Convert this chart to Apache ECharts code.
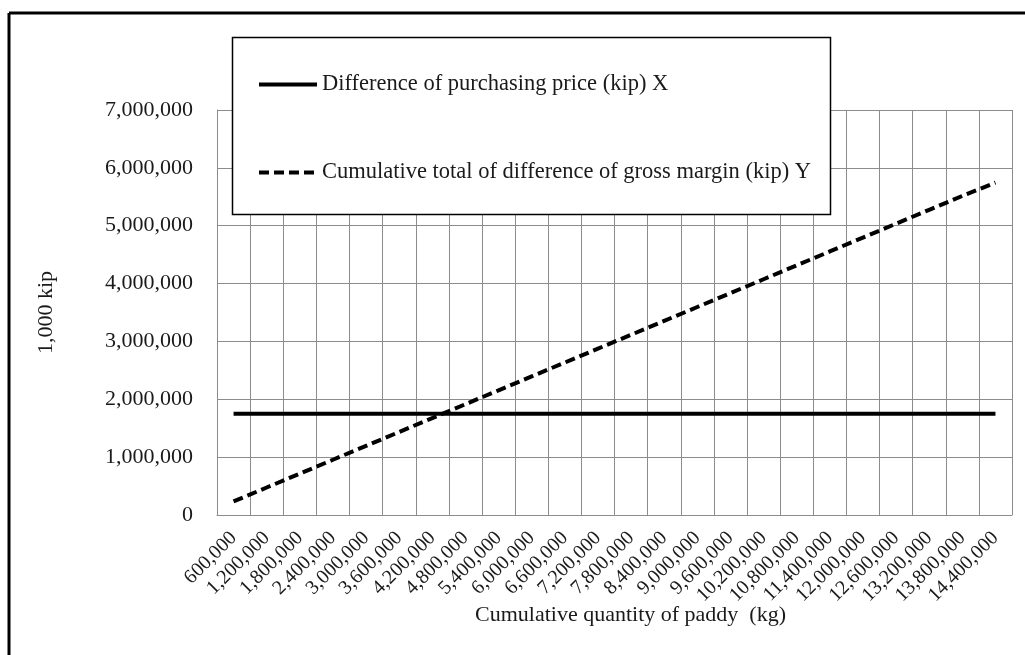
<!DOCTYPE html>
<html>
<head>
<meta charset="utf-8">
<title>Cumulative quantity of paddy</title>
<script src="https://cdn.jsdelivr.net/npm/echarts@6/dist/echarts.min.js"></script>
<style>
  html, body { margin: 0; padding: 0; background: #fff; }
  #chart { width: 1025px; height: 655px; }
</style>
</head>
<body>
<div id="chart"></div>
<script>
// x categories: cumulative quantity of paddy (kg)
const quantities = [
  '600,000', '1,200,000', '1,800,000', '2,400,000', '3,000,000', '3,600,000',
  '4,200,000', '4,800,000', '5,400,000', '6,000,000', '6,600,000', '7,200,000',
  '7,800,000', '8,400,000', '9,000,000', '9,600,000', '10,200,000', '10,800,000',
  '11,400,000', '12,000,000', '12,600,000', '13,200,000', '13,800,000', '14,400,000'
];

// difference of purchasing price (kip) X - flat line
const priceDiff = [
  1750000, 1750000, 1750000, 1750000, 1750000, 1750000,
  1750000, 1750000, 1750000, 1750000, 1750000, 1750000,
  1750000, 1750000, 1750000, 1750000, 1750000, 1750000,
  1750000, 1750000, 1750000, 1750000, 1750000, 1750000
];

// cumulative total of difference of gross margin (kip) Y
const marginCum = [
  235000, 475000, 715000, 955000, 1195000, 1435000,
  1675000, 1915000, 2155000, 2395000, 2635000, 2875000,
  3115000, 3355000, 3595000, 3835000, 4075000, 4315000,
  4555000, 4795000, 5035000, 5275000, 5515000, 5745000
];

const seriesNames = [
  'Difference of purchasing price (kip) X',
  'Cumulative total of difference of gross margin (kip) Y'
];

const FONT = 'Liberation Serif';
const INK = '#1a1a1a';
const GRID = '#8c8c8c';
const chart = echarts.init(document.getElementById('chart'));

function withCommas(v) {
  return String(v).replace(/\B(?=(\d{3})+(?!\d))/g, ',');
}

chart.setOption({
  animation: false,
  textStyle: { fontFamily: FONT, color: INK },
  grid: { left: 217, right: 13, top: 110, bottom: 140 },
  graphic: [
    // outer frame (top + left only, the picture is cropped)
    { type: 'line', shape: { x1: 9, y1: 13, x2: 1025, y2: 13 }, style: { stroke: '#000', lineWidth: 3 } },
    { type: 'line', shape: { x1: 9, y1: 13, x2: 9, y2: 655 }, style: { stroke: '#000', lineWidth: 3 } },
    // legend box
    { type: 'rect', z: 3, shape: { x: 232.5, y: 37.5, width: 598, height: 177 },
      style: { fill: '#fff', stroke: '#000', lineWidth: 1.5 } }
  ],
  legend: {
    orient: 'vertical',
    left: 252,
    top: 68,
    z: 5,
    itemWidth: 58,
    itemHeight: 14,
    itemGap: 65,
    itemTextGap: 5,
    itemStyle: { color: 'rgba(0,0,0,0)', borderWidth: 0, opacity: 0 },
    lineStyle: { width: 4 },
    textStyle: { fontFamily: FONT, fontSize: 22.5, color: INK },
    data: seriesNames
  },
  xAxis: {
    type: 'category',
    data: quantities,
    boundaryGap: true,
    name: 'Cumulative quantity of paddy  (kg)',
    nameLocation: 'middle',
    nameGap: 89,
    nameMoveOverlap: false,
    nameTextStyle: { fontFamily: FONT, fontSize: 22, color: INK, padding: [0, 0, 0, 32] },
    axisLine: { lineStyle: { color: GRID, width: 1 } },
    axisTick: { show: false },
    splitLine: { show: true, interval: 0, lineStyle: { color: GRID, width: 1 } },
    axisLabel: {
      interval: 0,
      rotate: 45,
      margin: 20,
      fontFamily: FONT,
      fontSize: 20,
      color: INK
    }
  },
  yAxis: {
    type: 'value',
    min: 0,
    max: 7000000,
    interval: 1000000,
    name: '1,000 kip',
    nameLocation: 'middle',
    nameGap: 160,
    nameMoveOverlap: false,
    nameTextStyle: { fontFamily: FONT, fontSize: 22, color: INK },
    axisLine: { show: true, lineStyle: { color: GRID, width: 1 } },
    axisTick: { show: false },
    splitLine: { lineStyle: { color: GRID, width: 1 } },
    axisLabel: {
      margin: 24,
      fontFamily: FONT,
      fontSize: 22,
      color: INK,
      formatter: withCommas
    }
  },
  series: [
    {
      name: seriesNames[0],
      type: 'line',
      data: priceDiff,
      symbol: 'none',
      lineStyle: { color: '#000', width: 4, type: 'solid' },
      itemStyle: { color: '#000' }
    },
    {
      name: seriesNames[1],
      type: 'line',
      data: marginCum,
      symbol: 'none',
      lineStyle: { color: '#000', width: 4, type: [10, 5] },
      itemStyle: { color: '#000' }
    }
  ]
});
</script>
</body>
</html>
